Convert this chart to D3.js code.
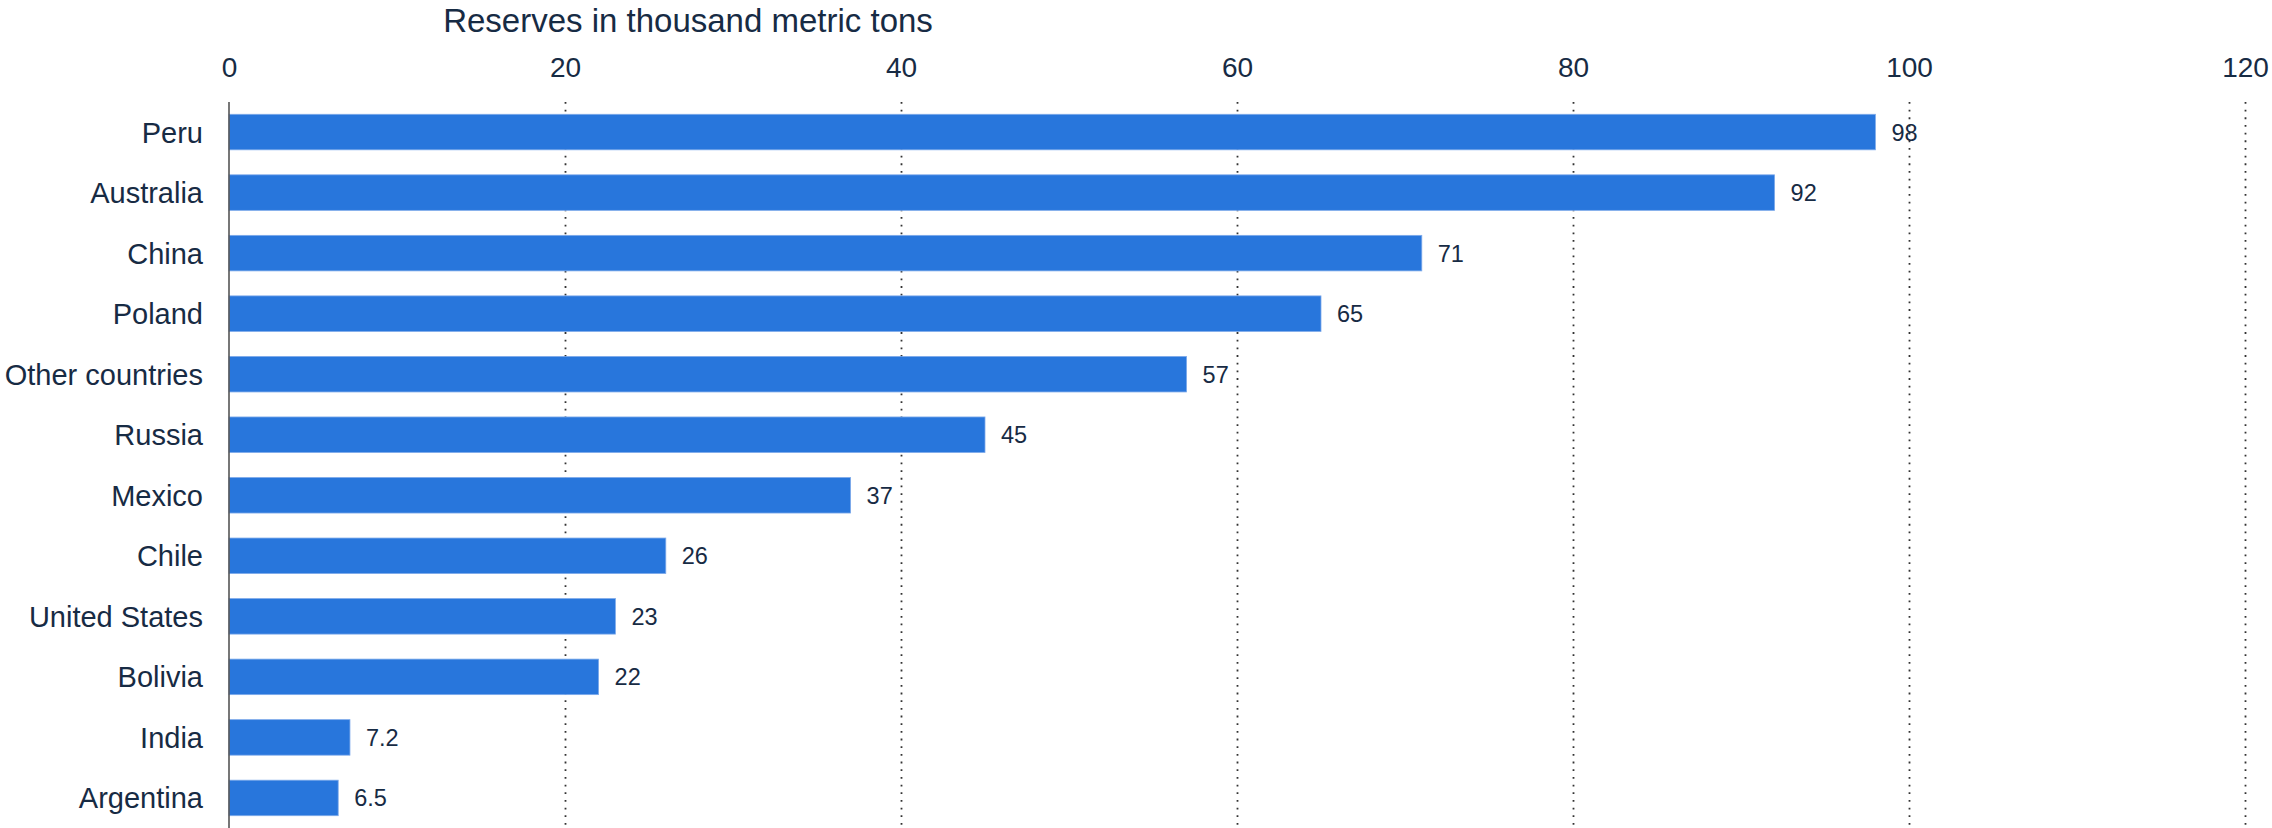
<!DOCTYPE html>
<html>
<head>
<meta charset="utf-8">
<script src="https://cdn.jsdelivr.net/npm/d3@7"></script>
<style>
  html, body { margin: 0; padding: 0; background: #ffffff; }
  svg { display: block; font-family: "Liberation Sans", Arial, Helvetica, sans-serif; }
</style>
</head>
<body>
<svg id="chart" width="2272" height="828"></svg>
<script>
const categories = ["Peru", "Australia", "China", "Poland", "Other countries", "Russia", "Mexico", "Chile", "United States", "Bolivia", "India", "Argentina"];
const values = [98, 92, 71, 65, 57, 45, 37, 26, 23, 22, 7.2, 6.5];
const valueLabels = ["98", "92", "71", "65", "57", "45", "37", "26", "23", "22", "7.2", "6.5"];
const tickValues = [0, 20, 40, 60, 80, 100, 120];
const axisTitle = "Reserves in thousand metric tons";

const data = categories.map((c, i) => ({ name: c, value: values[i], label: valueLabels[i] }));

const svg = d3.select("#chart");
const textColor = "#172b44";
const barColor = "#2876dc";

const x = d3.scaleLinear().domain([0, 120]).range([229, 2245]);
const y = d3.scaleBand().domain(categories).range([102, 828]).paddingInner(0.413).paddingOuter(0.203);

// gridlines
svg.append("g")
  .selectAll("line")
  .data(tickValues.filter(d => d !== 0))
  .join("line")
  .attr("x1", d => Math.round(x(d)) + 0.5)
  .attr("x2", d => Math.round(x(d)) + 0.5)
  .attr("y1", 102)
  .attr("y2", 828)
  .attr("stroke", "#333")
  .attr("stroke-width", 1.8)
  .attr("stroke-dasharray", "1.8 5.87");

// top axis tick labels
const axis = d3.axisTop(x).tickValues(tickValues).tickSize(0).tickPadding(0);
const gAxis = svg.append("g").attr("transform", "translate(0,77)").call(axis);
gAxis.select(".domain").remove();
gAxis.selectAll("text")
  .attr("fill", textColor)
  .attr("font-size", 28)
  .attr("dy", 0)
  .style("font-family", "'Liberation Sans', Arial, sans-serif");

// axis title
svg.append("text")
  .attr("x", 688)
  .attr("y", 32)
  .attr("text-anchor", "middle")
  .attr("fill", textColor)
  .attr("font-size", 33)
  .text(axisTitle);

// bars
svg.append("g")
  .selectAll("rect")
  .data(data)
  .join("rect")
  .attr("x", x(0))
  .attr("y", d => y(d.name))
  .attr("width", d => x(d.value) - x(0))
  .attr("height", y.bandwidth())
  .attr("fill", barColor)
  .attr("stroke", "#7eaaea")
  .attr("stroke-width", 0.8);

// value labels
svg.append("g")
  .selectAll("text")
  .data(data)
  .join("text")
  .attr("x", d => x(d.value) + 16)
  .attr("y", d => y(d.name) + y.bandwidth() / 2)
  .attr("dy", "0.36em")
  .attr("fill", textColor)
  .attr("font-size", 23.5)
  .text(d => d.label);

// category axis
const yAxis = d3.axisLeft(y).tickSize(0).tickPadding(0);
const gY = svg.append("g").attr("transform", "translate(203,0)").call(yAxis);
gY.select(".domain").remove();
gY.selectAll("text")
  .attr("fill", textColor)
  .attr("font-size", 29)
  .attr("dy", "0.36em")
  .style("font-family", "'Liberation Sans', Arial, sans-serif");

// vertical baseline axis line
svg.append("line")
  .attr("x1", x(0)).attr("x2", x(0))
  .attr("y1", 102).attr("y2", 828)
  .attr("stroke", "#555")
  .attr("stroke-width", 1.6);
</script>
</body>
</html>
